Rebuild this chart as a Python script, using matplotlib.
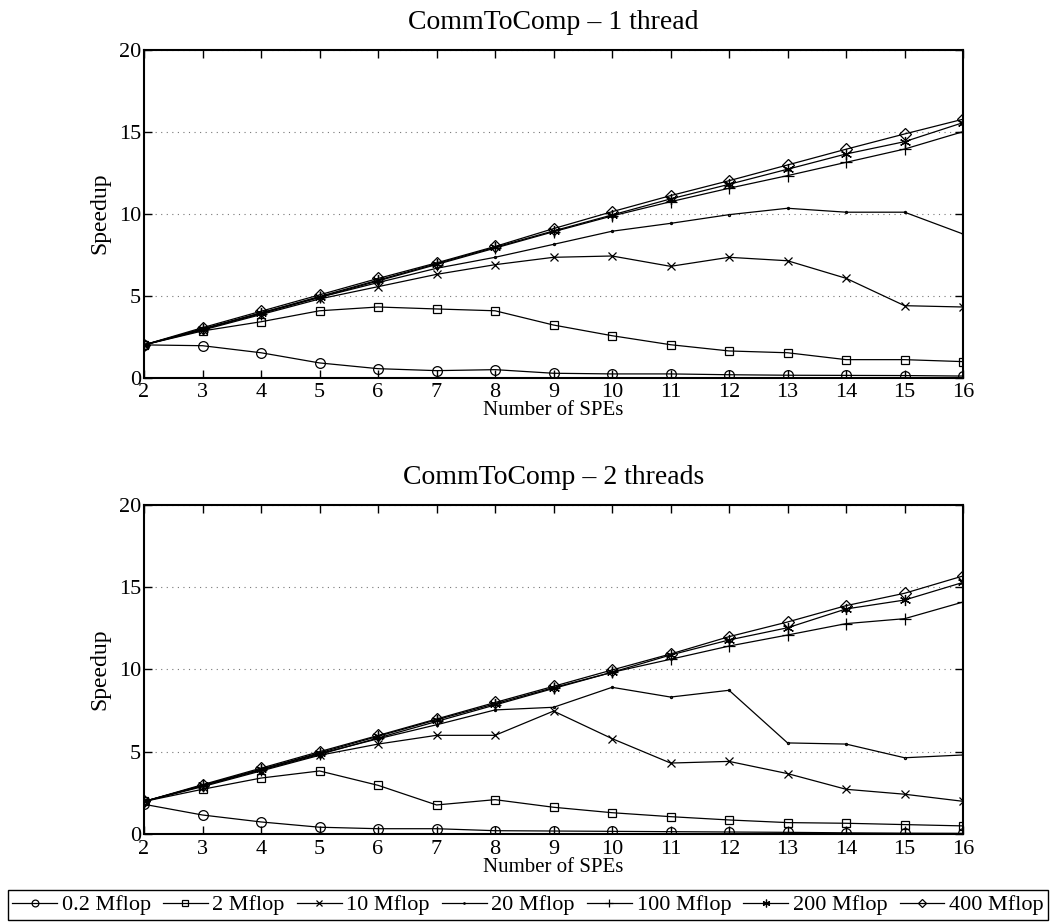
import matplotlib
matplotlib.use("Agg")
import matplotlib.pyplot as plt


# =====================================
# Data
# =====================================

spes = [2, 3, 4, 5, 6, 7, 8, 9, 10, 11, 12, 13, 14, 15, 16]

labels = [
    "0.2 Mflop", "2 Mflop", "10 Mflop", "20 Mflop",
    "100 Mflop", "200 Mflop", "400 Mflop",
]

# 1 thread
one_02 = [2.0, 1.95, 1.52, 0.9, 0.55, 0.43, 0.49, 0.27, 0.23, 0.23, 0.18, 0.15, 0.14, 0.13, 0.1]
one_2 = [2.0, 2.85, 3.41, 4.08, 4.31, 4.19, 4.08, 3.21, 2.56, 2.01, 1.63, 1.52, 1.1, 1.1, 0.98]
one_10 = [2.0, 2.9, 3.85, 4.8, 5.55, 6.3, 6.89, 7.34, 7.42, 6.79, 7.34, 7.13, 6.06, 4.39, 4.31]
one_20 = [2.0, 2.97, 3.95, 4.9, 5.8, 6.67, 7.34, 8.13, 8.93, 9.41, 9.94, 10.33, 10.09, 10.09, 8.76]
one_100 = [2.0, 2.95, 3.9, 4.9, 5.9, 6.9, 7.9, 8.9, 9.86, 10.73, 11.55, 12.32, 13.13, 13.94, 15.0]
one_200 = [2.0, 2.97, 3.95, 4.95, 5.95, 6.95, 7.95, 8.95, 9.92, 10.9, 11.79, 12.71, 13.64, 14.39, 15.55]
one_400 = [2.0, 3.05, 4.05, 5.05, 6.05, 7.0, 8.0, 9.09, 10.12, 11.1, 12.01, 12.97, 13.93, 14.86, 15.76]

# 2 threads
two_02 = [1.83, 1.18, 0.76, 0.44, 0.35, 0.35, 0.23, 0.21, 0.19, 0.17, 0.15, 0.13, 0.1, 0.08, 0.07]
two_2 = [2.0, 2.74, 3.42, 3.85, 2.98, 1.79, 2.11, 1.65, 1.32, 1.08, 0.88, 0.72, 0.68, 0.6, 0.52]
two_10 = [2.0, 2.9, 3.85, 4.8, 5.48, 6.01, 6.01, 7.48, 5.81, 4.33, 4.43, 3.69, 2.74, 2.44, 2.01]
two_20 = [2.0, 2.97, 3.95, 4.9, 5.8, 6.65, 7.55, 7.71, 8.92, 8.33, 8.74, 5.55, 5.48, 4.65, 4.82]
two_100 = [2.0, 2.95, 3.9, 4.85, 5.85, 6.85, 7.85, 8.85, 9.83, 10.62, 11.42, 12.09, 12.78, 13.08, 14.09]
two_200 = [2.0, 2.97, 3.95, 4.95, 5.95, 6.95, 7.92, 8.9, 9.83, 10.88, 11.79, 12.53, 13.67, 14.21, 15.28]
two_400 = [2.0, 3.02, 4.02, 5.02, 6.0, 7.0, 8.0, 8.98, 9.97, 10.94, 11.99, 12.88, 13.87, 14.62, 15.67]

one_thread = [one_02, one_2, one_10, one_20, one_100, one_200, one_400]
two_threads = [two_02, two_2, two_10, two_20, two_100, two_200, two_400]


# =====================================
# Style
# =====================================

plt.rcParams["font.family"] = ["Liberation Serif", "DejaVu Serif"]

asterisk = (6, 2, 0)

markers = ["o", "s", "x", ".", "+", asterisk, "D"]
sizes = [7, 6, 6, 3, 9, 8, 6]


def draw_panel(ax, series, title):

    for ys, lab, m, ms in zip(series, labels, markers, sizes):
        ax.plot(
            spes,
            ys,
            color="black",
            linewidth=0.9,
            marker=m,
            markersize=ms,
            markerfacecolor="none",
            markeredgecolor="black",
            markeredgewidth=0.9,
            label=lab
        )

    ax.set_xlim(2, 16)
    ax.set_ylim(0, 20)
    ax.set_xticks(spes)
    ax.set_yticks([0, 5, 10, 15, 20])

    ax.yaxis.grid(
        True,
        linestyle=(0, (1, 4)),
        color="#777777",
        linewidth=0.8
    )

    ax.tick_params(
        direction="in",
        top=True,
        right=True,
        length=6,
        width=1,
        labelsize=16,
        pad=2
    )
    ax.tick_params(axis="x", pad=4)

    for sp in ax.spines.values():
        sp.set_linewidth(1.5)

    ax.set_title(title, fontsize=20, pad=15)
    ax.set_xlabel("Number of SPEs", fontsize=15, labelpad=-1)
    ax.set_ylabel("Speedup", fontsize=17, labelpad=6)


# =====================================
# Create Chart
# =====================================

fig = plt.figure(
    figsize=(10.56, 9.23),
    dpi=100
)

ax1 = fig.add_axes([0.1364, 0.5908, 0.7756, 0.3554])
ax2 = fig.add_axes([0.1364, 0.0959, 0.7756, 0.3575])

draw_panel(ax1, one_thread, "CommToComp – 1 thread")
draw_panel(ax2, two_threads, "CommToComp – 2 threads")

handles, labs = ax1.get_legend_handles_labels()

leg = fig.legend(
    handles,
    labs,
    loc="center",
    ncol=7,
    bbox_to_anchor=(0.5, 0.0195),
    fontsize=16,
    handlelength=2.0,
    handletextpad=0.22,
    columnspacing=0.55,
    borderpad=0.2,
    borderaxespad=0,
    fancybox=False,
    framealpha=1,
    edgecolor="black",
    markerscale=0.7
)

leg.get_frame().set_linewidth(1.0)


# =====================================
# Save Image
# =====================================

plt.savefig(
    "out.png",
    dpi=100
)

plt.close()
